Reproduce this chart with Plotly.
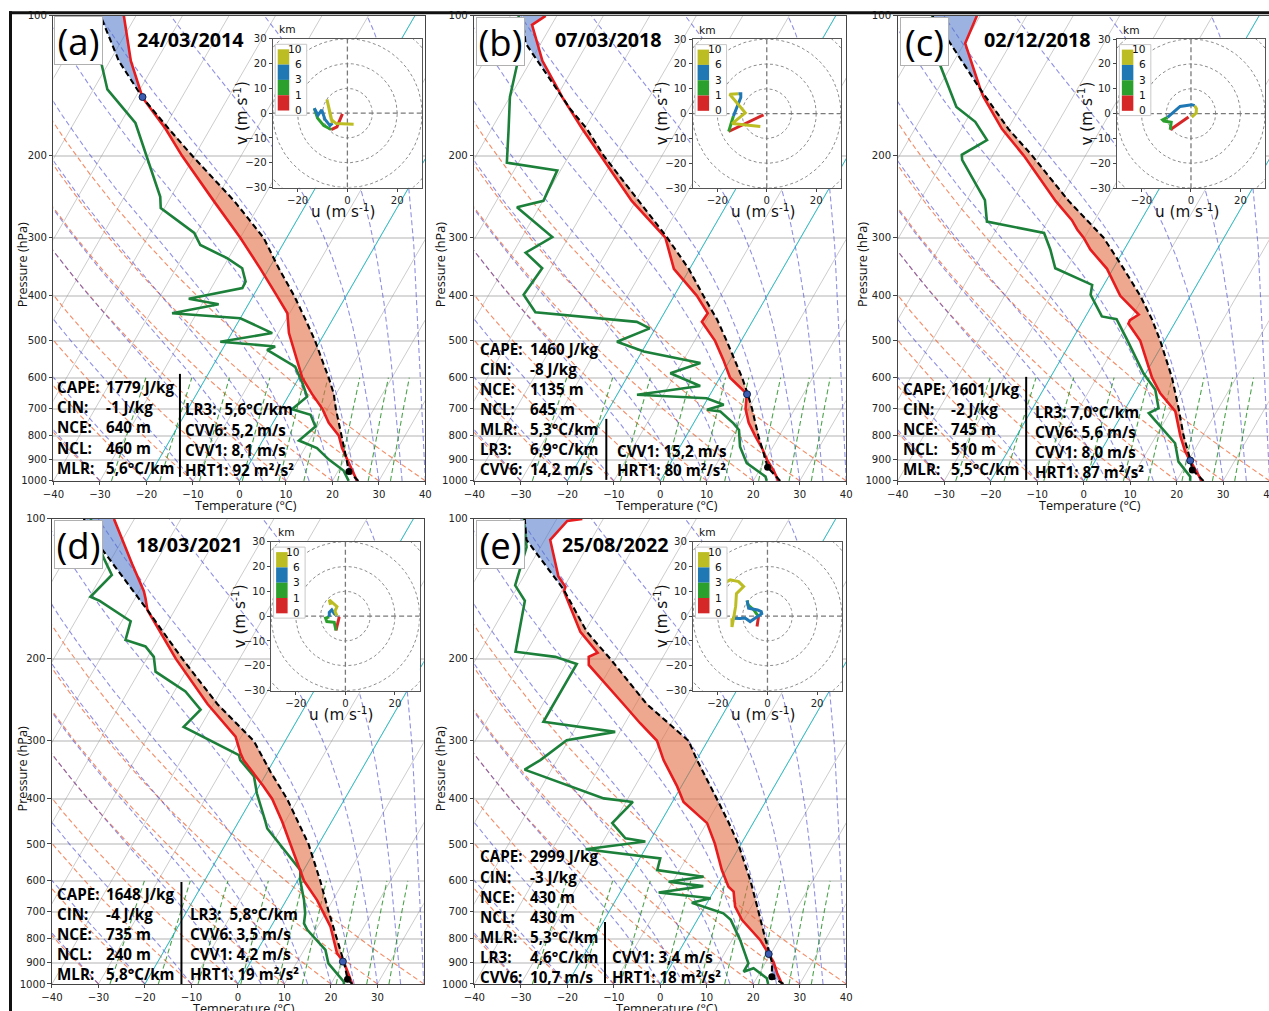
import numpy as np
import plotly.graph_objects as go

# Target picture geometry (reference pixels) and the viewer's page->picture mapping
REF_W, REF_H = 1269, 1011
SX, CX = 0.987, 10.5     # picture_x = SX * page_x + CX
SY, CY = 0.989, 5.2      # picture_y = SY * page_y + CY
FIG_W, FIG_H = 1277, 1018
FS = 1.0 / SX            # font / size compensation

# ============================ DATA ============================
# (a) 24/03/2014  -- pressure (hPa) / temperature (degC)
A_T_P = [1000, 900, 850, 800, 750, 700, 650, 600, 550, 500, 481, 450, 436, 400, 350, 300, 250, 200, 175, 150, 125, 100]
A_T = [25.3, 20.5, 18.0, 15.8, 12.0, 8.9, 4.8, 0.7, -2.6, -6.1, -7.7, -9.6, -10.5, -14.9, -21.8, -30.0, -40.3, -52.7, -59.6, -68.4, -75.5, -82.6]
A_TD_P = [1000, 950, 900, 872, 850, 819, 764, 721, 701, 659, 616, 568, 523, 514, 502, 481, 447, 436, 417, 406, 385, 373, 349, 332, 311, 293, 259, 245, 201, 170, 144, 124.5, 100]
A_TD = [23.5, 21.1, 16.6, 14.4, 12.6, 7.8, 9.6, 7.1, 2.4, 4.1, 1.4, -2.2, -10.3, -9.0, -21.4, -11.3, -20.0, -35.3, -26.4, -33.5, -23.3, -23.4, -25.8, -30.3, -37.7, -40.5, -50.8, -52.3, -60.1, -66.8, -77.0, -82.1, -90.0]
A_PAR_P = [1000, 955, 900, 800, 700, 650, 600, 550, 500, 450, 400, 350, 300, 250, 200, 175, 150, 125, 100]
A_PAR = [25.6, 22.4, 20.4, 16.3, 11.8, 9.5, 6.4, 2.8, -1.1, -5.8, -11.2, -17.8, -25.0, -35.9, -50.5, -58.9, -68.4, -78.1, -87.6]
A_LCL = (955, 22.4)
A_LFC = (149.5, -68.5)
A_HODO = {
    "0-1": ([-2.0, -2.8, -3.5, -4.2, -6.5], [-0.3, -2.0, -3.5, -5.5, -6.6]),
    "1-3": ([-6.5, -9.5, -12.0, -13.3], [-6.6, -5.0, -2.0, 2.0]),
    "3-6": ([-13.3, -11.8, -10.3, -9.0, -7.0, -6.0], [2.0, -0.8, 1.3, -2.5, -5.0, -4.0]),
    "6-10": ([-6.0, -7.2, -8.2, -6.5, -4.5, 2.5], [-4.0, 1.5, 5.5, -2.5, -4.2, -4.5]),
}
A_LEFT = [("CAPE:", "1779 J/kg"), ("CIN:", "-1 J/kg"), ("NCE:", "640 m"), ("NCL:", "460 m"), ("MLR:", "5,6°C/km")]
A_RIGHT = ["LR3:\u00a0\u00a05,6°C/km", "CVV6: 5,2 m/s", "CVV1: 8,1 m/s", "HRT1: 92 m²/s²"]

# (b) 07/03/2018
B_T_P = [1000, 950, 900, 850, 800, 750, 700, 650, 600, 550, 500, 455, 436, 400, 350, 300, 250, 200, 175, 150, 125, 104.6, 100]
B_T = [25.4, 23.1, 20.3, 17.8, 14.8, 11.8, 9.4, 7.8, 2.2, -1.4, -5.6, -10.8, -10.6, -15.1, -23.4, -29.1, -40.9, -53.2, -60.5, -68.6, -77.5, -84.2, -82.4]
B_TD_P = [1000, 979, 916, 844, 777, 752, 709, 703, 686, 664, 653, 625, 587, 558, 527, 502, 470, 455, 434, 398, 349, 323, 299, 258, 250, 215, 207, 201, 176, 149.5, 128, 100]
B_TD = [22.9, 22.1, 16.4, 12.9, 10.6, 8.6, 4.3, 1.2, 4.2, -0.3, -15.7, -3.2, -11.2, -6.0, -19.6, -26.6, -21.2, -24.8, -47.8, -52.5, -51.8, -57.3, -53.5, -64.8, -59.9, -60.7, -72.5, -73.2, -76.2, -80.0, -82.4, -88.2]
B_PAR_P = [1000, 950, 935, 900, 800, 700, 650, 600, 550, 500, 450, 400, 350, 300, 250, 200, 175, 159, 114.6, 100]
B_PAR = [25.8, 22.4, 21.4, 20.0, 15.5, 10.8, 8.0, 4.8, 1.1, -3.1, -7.8, -13.7, -20.2, -28.7, -39.4, -52.5, -59.5, -65.4, -83.3, -87.4]
B_LCL = (935, 21.4)
B_LFC = (651, 7.9)
B_HODO = {
    "0-1": ([-1.3, -8.0, -15.4], [-0.5, -3.7, -7.2]),
    "1-3": ([-15.4, -14.5, -13.5], [-7.2, -4.0, -1.0]),
    "3-6": ([-13.5, -12.0, -10.5, -10.5, -11.5], [-1.0, 3.0, 6.5, 8.0, 8.0]),
    "6-10": ([-11.5, -15.0, -8.7, -14.0, -2.6], [8.0, 7.8, 0.3, -4.0, -5.2]),
}
B_LEFT = [("CAPE:", "1460 J/kg"), ("CIN:", "-8 J/kg"), ("NCE:", "1135 m"), ("NCL:", "645 m"),
          ("MLR:", "5,3°C/km"), ("LR3:", "6,9°C/km"), ("CVV6:", "14,2 m/s")]
B_RIGHT = ["CVV1: 15,2 m/s", "HRT1: 80 m²/s²"]

# (c) 02/12/2018
C_T_P = [1000, 900, 865, 800, 709, 648, 600, 500, 459, 451, 439, 400, 350, 318, 300, 288, 275, 250, 200, 175, 149.5, 144, 114.6, 100]
C_T = [25.4, 20.3, 18.2, 15.2, 11.1, 5.6, 1.9, -5.2, -9.9, -10.0, -8.8, -15.1, -21.3, -27.3, -30.2, -32.6, -34.9, -40.8, -53.2, -61.3, -69.2, -70.8, -79.8, -80.7]
C_TD_P = [1000, 979, 909, 830, 715, 698, 637, 587, 497, 449, 443, 398, 379, 349, 318, 293, 277, 249, 204, 199, 185, 169, 157, 127, 100]
C_TD = [22.9, 22.4, 18.0, 15.0, 5.6, 7.1, 4.1, -0.5, -8.2, -13.0, -16.5, -21.6, -22.5, -32.5, -35.9, -39.3, -53.0, -56.1, -66.0, -66.7, -63.1, -67.9, -73.8, -82.7, -90.3]
C_PAR_P = [1000, 947, 900, 800, 700, 600, 500, 450, 400, 350, 300, 250, 200, 175, 144, 112.5, 100]
C_PAR = [25.8, 22.0, 20.3, 15.9, 11.5, 6.2, -0.9, -5.3, -10.8, -17.7, -25.9, -38.0, -51.4, -59.9, -70.8, -84.1, -90.3]
C_LCL = (947, 22.0)
C_LFC = (904, 20.4)
C_HODO = {
    "0-1": ([-1.0, -8.4], [-1.4, -6.5]),
    "1-3": ([-8.4, -8.0, -11.0, -11.5, -9.5], [-6.5, -3.5, -3.0, -2.5, -1.5]),
    "3-6": ([-9.5, -4.4, 0.3, 1.5], [-1.5, 2.9, 3.6, 3.2]),
    "6-10": ([1.5, 2.2, 2.1, 0.3], [3.2, 2.0, 0.2, -1.4]),
}
C_LEFT = [("CAPE:", "1601 J/kg"), ("CIN:", "-2 J/kg"), ("NCE:", "745 m"), ("NCL:", "510 m"), ("MLR:", "5,5°C/km")]
C_RIGHT = ["LR3: 7,0°C/km", "CVV6: 5,6 m/s", "CVV1: 8,0 m/s", "HRT1: 87 m²/s²"]

# (d) 18/03/2021
D_T_P = [1000, 900, 859, 753, 660, 600, 500, 459, 448, 400, 376, 330, 319, 294, 250, 200, 157, 148, 143, 125, 100]
D_T = [24.6, 20.2, 17.5, 12.8, 6.6, 1.4, -6.1, -9.6, -10.6, -15.6, -19.0, -26.6, -28.1, -31.2, -41.3, -53.7, -65.9, -67.8, -69.0, -74.9, -84.4]
D_TD_P = [1000, 989, 903, 845, 765, 741, 705, 660, 598, 569, 463, 448, 389, 358, 330, 322, 280, 257, 235, 213, 198, 188, 182, 166, 150, 147, 132, 121, 100]
D_TD = [22.8, 22.5, 16.9, 14.6, 8.2, 6.7, 5.7, 3.8, 0.5, -0.7, -13.0, -14.2, -19.6, -22.3, -27.3, -28.2, -43.6, -42.1, -47.6, -56.5, -58.7, -61.8, -66.9, -68.1, -77.3, -79.8, -77.9, -81.9, -89.4]
D_PAR_P = [1000, 977, 900, 800, 700, 600, 500, 400, 350, 300, 250, 200, 157, 116, 100]
D_PAR = [24.6, 23.0, 20.2, 15.7, 10.6, 4.9, -2.2, -12.4, -19.3, -26.8, -39.2, -52.3, -65.9, -83.3, -90.9]
D_LCL = (977, 23.0)
D_LFC = (895, 19.8)
D_HODO = {
    "0-1": ([-2.5, -3.0, -3.8], [-0.3, -3.0, -5.8]),
    "1-3": ([-3.8, -4.5, -7.5, -8.0, -6.5], [-5.8, -2.5, -2.2, -0.8, -0.3]),
    "3-6": ([-6.5, -6.5, -5.5, -4.5, -3.5], [-0.3, 1.5, 2.5, 1.0, 0.2]),
    "6-10": ([-3.5, -4.2, -3.4, -5.0, -6.5, -6.0], [0.2, 2.0, 3.8, 5.0, 6.5, 4.5]),
}
D_LEFT = [("CAPE:", "1648 J/kg"), ("CIN:", "-4 J/kg"), ("NCE:", "735 m"), ("NCL:", "240 m"), ("MLR:", "5,8°C/km")]
D_RIGHT = ["LR3:\u00a0\u00a05,8°C/km", "CVV6: 3,5 m/s", "CVV1: 4,2 m/s", "HRT1: 19 m²/s²"]

# (e) 25/08/2022
E_T_P = [1000, 948, 896, 874, 804, 728, 682, 633, 618, 569, 499, 451, 406, 376, 330, 300, 275, 250, 206, 198, 194, 175, 143, 140, 133, 111, 101, 100]
E_T = [26.2, 23.8, 21.6, 20.3, 16.0, 9.6, 6.5, 4.3, 2.6, -0.9, -5.7, -9.9, -17.6, -20.9, -27.1, -30.9, -36.7, -42.7, -55.0, -56.0, -54.6, -60.9, -69.5, -69.7, -72.5, -78.8, -77.5, -74.5]
E_TD_P = [1000, 972, 925, 941, 903, 804, 728, 705, 669, 654, 636, 616, 603, 588, 569, 537, 513, 494, 486, 451, 406, 399, 346, 330, 299, 287, 273, 205, 198, 193, 150, 139, 115, 100]
E_TD = [23.2, 22.2, 18.1, 16.4, 16.4, 11.7, 7.2, 4.8, -3.3, 0.2, -11.7, -2.9, -10.9, -4.0, -14.8, -15.6, -32.8, -20.9, -25.6, -30.3, -28.5, -35.2, -55.8, -53.6, -50.4, -41.0, -57.7, -57.7, -63.2, -72.4, -76.7, -80.7, -83.0, -87.1]
E_PAR_P = [1000, 965, 900, 850, 800, 700, 600, 500, 450, 400, 330, 300, 250, 200, 175, 142, 111, 100]
E_PAR = [26.5, 23.1, 21.4, 19.2, 17.0, 12.2, 6.6, -0.6, -5.3, -10.8, -19.9, -24.1, -37.7, -51.1, -59.5, -69.7, -83.9, -86.9]
E_LCL = (965, 23.1)
E_LFC = (862, 19.6)
E_HODO = {
    "0-1": ([-4.2, -3.8, -3.6], [-4.2, -2.0, -0.2]),
    "1-3": ([-3.6, -5.5, -7.8, -8.2], [-0.2, 2.5, 4.5, 6.3]),
    "3-6": ([-8.2, -7.6, -4.0, -2.5, -2.3, -5.0, -7.0, -9.0, -11.0, -14.3],
            [6.3, 3.2, 2.5, 1.8, 1.0, -1.0, -2.2, -0.8, -1.0, -0.9]),
    "6-10": ([-14.3, -14.3, -13.5, -12.8, -12.5, -9.6, -11.6, -15.0, -17.6],
             [-0.9, -4.4, 0.0, 4.0, 9.0, 11.9, 13.9, 14.6, 13.2]),
}
E_LEFT = [("CAPE:", "2999 J/kg"), ("CIN:", "-3 J/kg"), ("NCE:", "430 m"), ("NCL:", "430 m"),
          ("MLR:", "5,3°C/km"), ("LR3:", "4,6°C/km"), ("CVV6:", "10,7 m/s")]
E_RIGHT = ["CVV1: 3,4 m/s", "HRT1: 18 m²/s²"]

LABELS = ["(a)", "(b)", "(c)", "(d)", "(e)"]
DATES = ["24/03/2014", "07/03/2018", "02/12/2018", "18/03/2021", "25/08/2022"]
P_TICKS = [100, 200, 300, 400, 500, 600, 700, 800, 900, 1000]
T_TICKS = [-40, -30, -20, -10, 0, 10, 20, 30, 40]
HODO_LEVELS = ["10", "6", "3", "1", "0"]
MIX_RATIOS = [0.0004, 0.001, 0.002, 0.004, 0.007, 0.01, 0.016, 0.024, 0.032]

PANELS = [
    dict(T_P=A_T_P, T=A_T, TD_P=A_TD_P, TD=A_TD, PAR_P=A_PAR_P, PAR=A_PAR, LCL=A_LCL, LFC=A_LFC, HODO=A_HODO, LEFT=A_LEFT, RIGHT=A_RIGHT),
    dict(T_P=B_T_P, T=B_T, TD_P=B_TD_P, TD=B_TD, PAR_P=B_PAR_P, PAR=B_PAR, LCL=B_LCL, LFC=B_LFC, HODO=B_HODO, LEFT=B_LEFT, RIGHT=B_RIGHT),
    dict(T_P=C_T_P, T=C_T, TD_P=C_TD_P, TD=C_TD, PAR_P=C_PAR_P, PAR=C_PAR, LCL=C_LCL, LFC=C_LFC, HODO=C_HODO, LEFT=C_LEFT, RIGHT=C_RIGHT),
    dict(T_P=D_T_P, T=D_T, TD_P=D_TD_P, TD=D_TD, PAR_P=D_PAR_P, PAR=D_PAR, LCL=D_LCL, LFC=D_LFC, HODO=D_HODO, LEFT=D_LEFT, RIGHT=D_RIGHT),
    dict(T_P=E_T_P, T=E_T, TD_P=E_TD_P, TD=E_TD, PAR_P=E_PAR_P, PAR=E_PAR, LCL=E_LCL, LFC=E_LFC, HODO=E_HODO, LEFT=E_LEFT, RIGHT=E_RIGHT),
]

# ============================ LAYOUT (reference pixels) ============================
PX_PER_C = 4.65
PX_PER_DEC = 465.0
SKEW = np.tan(np.radians(30)) * PX_PER_DEC / PX_PER_C

MAIN_BOX = [(53, 16, 425, 481), (474, 16, 846, 481), (897.5, 16, 1269.5, 481),
            (51.5, 519, 423.3, 984), (474, 519, 846, 984)]
INSET_BOX = [(272.3, 39, 421.7, 187.7), (692.3, 39.3, 840.7, 188.3), (1116.7, 39.3, 1265, 188.3),
             (270.7, 541.7, 419.3, 690.7), (692.7, 541.7, 841.7, 690.7)]
LABEL_POS = [(78.5, 41), (500, 41.7), (924, 41.5), (77.7, 544.7), (500.3, 544.5)]
DATE_POS = [(190, 40), (608, 40), (1037, 40), (189, 545), (615, 545)]
PRES_LBL = [(21, 265), (439, 265), (862, 265), (21, 769), (440, 769)]
TXT_LAYOUT = [
    dict(lx=55, vx=104, ly=[387, 407, 427, 448, 468], div=(179.5, 374, 477), rx=183, ry=[409, 430, 450, 470]),
    dict(lx=478, vx=528, ly=[349, 369, 389, 409, 429, 449, 469], div=(606, 419, 480), rx=615, ry=[451, 470]),
    dict(lx=901, vx=949, ly=[389, 409, 429, 449, 469], div=(1026, 377, 480), rx=1033, ry=[412, 432, 452, 472]),
    dict(lx=55, vx=104, ly=[894, 914, 934, 954, 974], div=(181, 882, 984), rx=188, ry=[914, 934, 954, 974]),
    dict(lx=478, vx=528, ly=[856, 877, 897, 917, 937, 957, 977], div=(604.7, 922, 983), rx=610, ry=[957, 977]),
]

C_RED = "rgb(230,28,30)"
C_GREEN = "rgb(28,128,58)"
HODO_COLORS = {"0-1": "#d62728", "1-3": "#2ca02c", "3-6": "#1f77b4", "6-10": "#bcbd22"}


def skx(T, p):
    return np.asarray(T, float) + SKEW * np.log10(1000.0 / np.asarray(p, float))


def px_x(px):
    return ((px - CX) / SX) / FIG_W


def px_y(py):
    return 1 - ((py - CY) / SY) / FIG_H


def dx_(px):
    return min(1.0, max(0.0, px_x(px)))


def dy_(py):
    return min(1.0, max(0.0, px_y(py)))


def fnt(family, size, color="#111"):
    return dict(family=family, size=size * FS, color=color)


def join(xs_list, ys_list):
    X, Y = [], []
    for xs, ys in zip(xs_list, ys_list):
        X += [float(v) for v in xs] + [None]
        Y += [float(v) for v in ys] + [None]
    return X, Y


# ---------- background thermodynamic lines ----------
P_BG = np.geomspace(1000, 100, 150)
iso_x, iso_y = join([skx([t, t], [1000, 100]) for t in range(-130, 50, 10)], [[1000, 100]] * 18)
cy_x, cy_y = join([skx([t, t], [1000, 100]) for t in (-20, 0)], [[1000, 100]] * 2)

dry = []
for t0 in range(-40, 41, 10):
    T = (t0 + 273.15) * (P_BG / 1000.0) ** 0.2857 - 273.15
    dry.append(skx(T, P_BG))
dry_x, dry_y = join(dry, [P_BG] * len(dry))


def moist_profiles(t0s, p):
    Rd, Cp, Lv, eps = 287.04749, 1004.6662, 2.50084e6, 0.62196

    def f(T, pp):
        es = 6.112 * np.exp(17.67 * (T - 273.15) / (T - 29.65))
        rs = eps * es / (pp - es)
        return (Rd * T + Lv * rs) / (Cp + Lv * Lv * rs * eps / (Rd * T * T)) / pp

    T = np.array(t0s, float) + 273.15
    out = [T.copy()]
    for i in range(len(p) - 1):
        h = p[i + 1] - p[i]
        k1 = f(T, p[i])
        k2 = f(T + h / 2 * k1, p[i] + h / 2)
        k3 = f(T + h / 2 * k2, p[i] + h / 2)
        k4 = f(T + h * k3, p[i + 1])
        T = T + h / 6 * (k1 + 2 * k2 + 2 * k3 + k4)
        out.append(T.copy())
    return np.array(out).T - 273.15


moist_t0 = [-40, -30, -20, -10] + list(range(0, 41, 5))
mp = moist_profiles(moist_t0, P_BG)
moist_x, moist_y = join([skx(row, P_BG) for row in mp], [P_BG] * len(mp))

P_MIX = np.linspace(1000, 600, 40)
mix = []
for w in MIX_RATIOS:
    e = w * P_MIX / (0.62196 + w)
    l = np.log(e / 6.112)
    td = 243.5 * l / (17.67 - l)
    mix.append(skx(td, P_MIX))
mix_x, mix_y = join(mix, [P_MIX] * len(mix))

DASH = "5px,3px"

fig = go.Figure()
layout = dict(width=FIG_W, height=FIG_H, autosize=False, margin=dict(l=0, r=0, t=0, b=0, pad=0),
              paper_bgcolor="white", plot_bgcolor="white", showlegend=False)
annotations = []
shapes = []

TICKFONT = fnt("DejaVu Sans", 10, "#222")

for i, pan in enumerate(PANELS):
    n = i + 1
    xa, ya = ("x", "y") if n == 1 else (f"x{n}", f"y{n}")
    m = n + 5
    hx, hy = f"x{m}", f"y{m}"
    x0, y0, x1, y1 = MAIN_BOX[i]
    xmax = -40 + (x1 - x0) / PX_PER_C

    def add(tr):
        tr.update(xaxis=xa, yaxis=ya, hoverinfo="skip")
        fig.add_trace(tr)

    add(go.Scatter(x=iso_x, y=iso_y, mode="lines", line=dict(color="rgba(150,150,150,0.55)", width=0.9)))
    add(go.Scatter(x=dry_x, y=dry_y, mode="lines", line=dict(color="rgba(240,100,50,0.75)", width=1.1, dash=DASH)))
    add(go.Scatter(x=moist_x, y=moist_y, mode="lines", line=dict(color="rgba(70,70,210,0.6)", width=1.1, dash=DASH)))
    add(go.Scatter(x=mix_x, y=mix_y, mode="lines", line=dict(color="rgba(30,140,30,0.8)", width=1.1, dash=DASH)))
    add(go.Scatter(x=cy_x, y=cy_y, mode="lines", line=dict(color="rgba(0,190,200,0.8)", width=1.0)))

    # white background under hodograph inset
    ix0, iy0, ix1, iy1 = INSET_BOX[i]
    bx = [-40 + (ix0 - x0) / PX_PER_C, -40 + (ix1 - x0) / PX_PER_C]
    bp = [1000 * 10 ** (-(y1 - iy1) / PX_PER_DEC), 1000 * 10 ** (-(y1 - iy0) / PX_PER_DEC)]
    add(go.Scatter(x=[bx[0], bx[1], bx[1], bx[0], bx[0]], y=[bp[0], bp[0], bp[1], bp[1], bp[0]],
                   mode="lines", fill="toself", fillcolor="white", line=dict(width=0)))

    # CAPE / CIN shading
    grid = np.geomspace(100, 1000, 800)
    lg = np.log10(grid)
    Ti = np.interp(lg, np.log10(pan["T_P"][::-1]), pan["T"][::-1])
    Pi = np.interp(lg, np.log10(pan["PAR_P"][::-1]), pan["PAR"][::-1])
    up = np.maximum(Ti, Pi)
    cape_x = list(skx(up, grid)) + list(skx(Ti, grid)[::-1])
    cin_x = list(skx(up, grid)) + list(skx(Pi, grid)[::-1])
    yy = list(grid) + list(grid[::-1])
    add(go.Scatter(x=cape_x, y=yy, mode="lines", fill="toself", fillcolor="rgba(226,110,70,0.6)", line=dict(width=0)))
    add(go.Scatter(x=cin_x, y=yy, mode="lines", fill="toself", fillcolor="rgba(75,115,200,0.55)", line=dict(width=0)))

    add(go.Scatter(x=skx(pan["TD"], pan["TD_P"]), y=pan["TD_P"], mode="lines", line=dict(color=C_GREEN, width=2.6)))
    add(go.Scatter(x=skx(pan["T"], pan["T_P"]), y=pan["T_P"], mode="lines", line=dict(color=C_RED, width=2.6)))
    add(go.Scatter(x=skx(pan["PAR"], pan["PAR_P"]), y=pan["PAR_P"], mode="lines",
                   line=dict(color="black", width=2.1, dash="6px,3.5px")))
    add(go.Scatter(x=skx([pan["LCL"][1]], [pan["LCL"][0]]), y=[pan["LCL"][0]], mode="markers",
                   marker=dict(color="black", size=7)))
    add(go.Scatter(x=skx([pan["LFC"][1]], [pan["LFC"][0]]), y=[pan["LFC"][0]], mode="markers",
                   marker=dict(color="#3b5cb0", size=7, line=dict(color="#10204a", width=1))))

    layout["xaxis" if n == 1 else f"xaxis{n}"] = dict(
        domain=[dx_(x0), dx_(x1)], range=[-40, xmax], anchor=ya, tickvals=T_TICKS,
        ticks="outside", ticklen=3.5, tickcolor="#444", tickfont=TICKFONT, showgrid=False, zeroline=False,
        showline=True, linecolor="#444", linewidth=1, mirror=True)
    layout["yaxis" if n == 1 else f"yaxis{n}"] = dict(
        domain=[dy_(y1), dy_(y0)], type="log", range=[3, 2], anchor=xa, tickvals=P_TICKS,
        ticktext=[str(v) for v in P_TICKS], ticks="outside", ticklen=3.5, tickcolor="#444", tickfont=TICKFONT,
        showgrid=True, gridcolor="#d9d9d9", gridwidth=1.6, zeroline=False,
        showline=True, linecolor="#444", linewidth=1, mirror=True)

    # ---------- hodograph inset ----------
    def addh(tr):
        tr.update(xaxis=hx, yaxis=hy, hoverinfo="skip")
        fig.add_trace(tr)

    th = np.linspace(0, 2 * np.pi, 240)
    cx, cyy = join([r * np.cos(th) for r in (10, 20, 30, 40)], [r * np.sin(th) for r in (10, 20, 30, 40)])
    addh(go.Scatter(x=cx, y=cyy, mode="lines", line=dict(color="#8c8c8c", width=1, dash="3px,2.5px")))
    addh(go.Scatter(x=[-30, 30, None, 0, 0], y=[0, 0, None, -30, 30], mode="lines",
                    line=dict(color="#7a7a7a", width=1.3, dash="5px,3px")))
    for lay, (u, v) in pan["HODO"].items():
        addh(go.Scatter(x=u, y=v, mode="lines", line=dict(color=HODO_COLORS[lay], width=3)))

    layout[f"xaxis{m}"] = dict(domain=[dx_(ix0), dx_(ix1)], range=[-30, 30], anchor=hy,
                               tickvals=[-20, 0, 20], ticks="outside", ticklen=3, tickcolor="#444",
                               tickfont=TICKFONT, showgrid=False, zeroline=False, showline=True,
                               linecolor="#555", linewidth=1, mirror=True)
    layout[f"yaxis{m}"] = dict(domain=[dy_(iy1), dy_(iy0)], range=[-30, 30], anchor=hx,
                               tickvals=[-30, -20, -10, 0, 10, 20, 30], ticks="outside", ticklen=3,
                               tickcolor="#444", tickfont=TICKFONT, showgrid=False, zeroline=False,
                               showline=True, linecolor="#555", linewidth=1, mirror=True)

    # hodograph colour key
    shapes.append(dict(type="rect", xref="paper", yref="paper", x0=px_x(ix0 + 2.5), x1=px_x(ix0 + 34),
                       y0=px_y(iy0 + 76.5), y1=px_y(iy0 + 5.5), fillcolor="white",
                       line=dict(color="#c8c8c8", width=1), layer="above"))
    seg_cols = ["#bcbd22", "#1f77b4", "#2ca02c", "#d62728"]
    for k, col in enumerate(seg_cols):
        shapes.append(dict(type="rect", xref="paper", yref="paper", x0=px_x(ix0 + 5), x1=px_x(ix0 + 16.5),
                           y0=px_y(iy0 + 10.5 + (k + 1) * 15.3), y1=px_y(iy0 + 10.5 + k * 15.3),
                           fillcolor=col, line=dict(width=0), layer="above"))
    for k, lab in enumerate(HODO_LEVELS):
        annotations.append(dict(x=px_x(ix0 + 31), y=px_y(iy0 + 10.5 + k * 15.3), text=lab, xanchor="right",
                                yanchor="middle", font=fnt("DejaVu Sans", 10.5)))
    annotations.append(dict(x=px_x(ix0 + 15), y=px_y(iy0 - 9), text="km", xanchor="center", yanchor="middle",
                            font=fnt("DejaVu Sans", 10.5)))
    annotations.append(dict(x=px_x(ix0 - 32), y=px_y((iy0 + iy1) / 2), text="v (m s<sup>-1</sup>)",
                            textangle=-90, xanchor="center", yanchor="middle", font=fnt("DejaVu Sans", 15)))
    annotations.append(dict(x=px_x((ix0 + ix1) / 2 - 4), y=px_y(iy1 + 23), text="u (m s<sup>-1</sup>)",
                            xanchor="center", yanchor="middle", font=fnt("DejaVu Sans", 15)))

    # panel label, date
    lx, ly = LABEL_POS[i]
    annotations.append(dict(x=px_x(lx), y=px_y(ly), text=LABELS[i], xanchor="center", yanchor="middle",
                            width=45, height=45, bgcolor="white", bordercolor="#b0b0b0", borderwidth=1,
                            borderpad=1, font=fnt("Open Sans", 36, "black")))
    ddx, ddy = DATE_POS[i]
    annotations.append(dict(x=px_x(ddx), y=px_y(ddy), text=f"<b>{DATES[i]}</b>", xanchor="center",
                            yanchor="middle", font=fnt("Open Sans", 19.5, "black")))

    # axis titles
    plx, ply = PRES_LBL[i]
    annotations.append(dict(x=px_x(plx), y=px_y(ply), text="Pressure (hPa)", textangle=-90, xanchor="center",
                            yanchor="middle", font=fnt("Open Sans", 12.5)))
    annotations.append(dict(x=px_x(x0 + 186 + 6.5), y=px_y(y1 + 24), text="Temperature (°C)", xanchor="center",
                            yanchor="middle", font=fnt("Open Sans", 12.5)))

    # parameter text
    tl = TXT_LAYOUT[i]
    for (lab, val), yv in zip(pan["LEFT"], tl["ly"]):
        annotations.append(dict(x=px_x(tl["lx"]), y=px_y(yv), text=f"<b>{lab}</b>", xanchor="left",
                                yanchor="middle", font=fnt("Open Sans", 15, "black")))
        annotations.append(dict(x=px_x(tl["vx"]), y=px_y(yv), text=f"<b>{val}</b>", xanchor="left",
                                yanchor="middle", font=fnt("Open Sans", 15, "black")))
    for txt, yv in zip(pan["RIGHT"], tl["ry"]):
        annotations.append(dict(x=px_x(tl["rx"]), y=px_y(yv), text=f"<b>{txt}</b>", xanchor="left",
                                yanchor="middle", font=fnt("Open Sans", 15, "black")))
    dvx, dv0, dv1 = tl["div"]
    shapes.append(dict(type="line", xref="paper", yref="paper", x0=px_x(dvx), x1=px_x(dvx),
                       y0=px_y(dv0), y1=px_y(dv1), line=dict(color="black", width=2), layer="above"))

# outer frame lines
shapes.append(dict(type="line", xref="paper", yref="paper", x0=px_x(8.5), x1=1, y0=px_y(13), y1=px_y(13),
                   line=dict(color="#111", width=3), layer="above"))
shapes.append(dict(type="line", xref="paper", yref="paper", x0=px_x(10), x1=px_x(10), y0=px_y(11.5), y1=0,
                   line=dict(color="#111", width=3), layer="above"))

for a in annotations:
    a.setdefault("xref", "paper")
    a.setdefault("yref", "paper")
    a.setdefault("showarrow", False)

layout["annotations"] = annotations
layout["shapes"] = shapes
fig.update_layout(**layout)

fig.write_html("out.html", config={"displayModeBar": False, "responsive": False},
               post_script="document.body.style.margin='0px';document.body.style.overflow='hidden';")
